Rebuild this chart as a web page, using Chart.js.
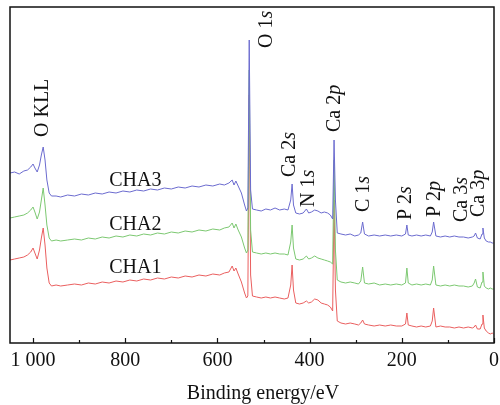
<!DOCTYPE html>
<html>
<head>
<meta charset="utf-8">
<script src="https://cdn.jsdelivr.net/npm/chart.js@4.4.1/dist/chart.umd.min.js"></script>
<style>
  html, body { margin: 0; padding: 0; background: #fff; }
  #xps { display: block; }
</style>
</head>
<body>
<canvas id="xps" width="500" height="405"></canvas>
<script>
// binding energy (eV), high -> low
let energy = [
  1050, 1040, 1030, 1020, 1012, 1005, 1000, 996, 991, 986, 982, 978, 974, 970, 965, 960,
  950, 940, 925, 910, 895, 880, 865, 850, 835, 820, 805, 790, 775, 760, 745, 730,
  715, 700, 685, 670, 655, 640, 625, 610, 595, 585, 575, 568, 564, 560, 555, 548,
  541, 537, 534, 531, 528, 524, 515, 505, 495, 485, 475, 465, 455, 447, 441, 438,
  435, 430, 422, 414, 407, 402, 396, 389, 382, 375, 368, 361, 355, 350, 347, 344,
  340, 332, 322, 312, 302, 294, 289, 285, 281, 272, 260, 248, 236, 224, 212, 200,
  192, 189, 186, 178, 168, 158, 148, 138, 134, 131, 126, 116, 106, 96, 86, 76,
  66, 56, 47, 43, 40, 36, 30, 26, 24, 21, 17, 12, 8, 4, 1
];

// intensity, arbitrary units (spectra already stacked)
let cha3 = [
  170, 171, 169, 172, 173, 176, 179, 175, 171, 178, 188, 196, 183, 163, 150, 147,
  147, 146, 148, 147, 149, 148, 150, 149, 151, 150, 152, 151, 153, 152, 154, 153,
  155, 154, 156, 155, 157, 156, 158, 157, 159, 158, 160, 163, 158, 162, 157, 150,
  138, 132, 135, 303, 153, 134, 133, 132, 134, 133, 135, 133, 134, 133, 143, 159,
  138, 130, 129, 130, 134, 130, 131, 133, 132, 130, 131, 130, 128, 124, 203, 143,
  110, 109, 108, 109, 107, 108, 110, 121, 109, 107, 108, 107, 108, 107, 108, 107,
  109, 118, 108, 107, 108, 107, 108, 107, 111, 121, 107, 106, 107, 106, 107, 106,
  106, 105, 106, 107, 110, 105, 104, 109, 115, 105, 102, 101, 101, 100, 100
];
let cha2 = [
  125, 126, 127, 128, 130, 133, 136, 131, 124, 131, 143, 155, 138, 118, 105, 102,
  103, 102, 103, 104, 103, 105, 104, 106, 105, 107, 106, 108, 107, 109, 108, 110,
  109, 111, 110, 112, 111, 113, 112, 114, 113, 115, 116, 120, 115, 119, 113, 106,
  95, 90, 93, 273, 113, 91, 90, 89, 90, 89, 90, 89, 89, 88, 101, 118,
  95, 84, 83, 84, 87, 84, 85, 87, 85, 84, 83, 82, 81, 79, 183, 93,
  63, 61, 60, 61, 60, 59, 62, 76, 60, 59, 60, 58, 59, 58, 59, 58,
  60, 75, 60, 58, 59, 58, 59, 58, 63, 77, 58, 57, 58, 57, 58, 57,
  57, 56, 57, 60, 64, 56, 55, 61, 71, 57, 55, 54, 55, 54, 54
];
let cha1 = [
  83, 84, 85, 86, 88, 91, 95, 90, 84, 93, 105, 115, 98, 75, 60, 57,
  58, 57, 58, 59, 58, 60, 59, 61, 60, 62, 61, 63, 62, 64, 63, 65,
  64, 66, 65, 67, 66, 68, 67, 69, 68, 70, 71, 77, 72, 75, 69, 61,
  50, 45, 47, 248, 68, 47, 46, 45, 46, 45, 46, 45, 44, 45, 58, 78,
  53, 40, 39, 40, 42, 40, 41, 44, 43, 40, 39, 38, 36, 32, 143, 53,
  22, 20, 19, 20, 19, 18, 20, 23, 19, 18, 17, 18, 17, 18, 17, 17,
  19, 30, 18, 17, 16, 17, 16, 17, 22, 35, 16, 17, 16, 16, 15, 16,
  15, 16, 15, 16, 18, 14, 14, 19, 28, 15, 12, 10, 9, 10, 9
];

let seriesNames = ['CHA3', 'CHA2', 'CHA1'];
let seriesColors = ['#6b6bcf', '#7cc871', '#ea5f5f'];

// peak assignments and where their labels sit
let peakNames = ['O KLL', 'O 1s', 'Ca 2s', 'N 1s', 'Ca 2p', 'C 1s', 'P 2s', 'P 2p', 'Ca 3s', 'Ca 3p'];
let peakLabelE = [978, 493, 443, 402, 346, 283, 191, 128, 70, 33];
let peakLabelI = [206, 295, 166, 136, 211, 131, 123, 126, 121, 126];

// series names written on the curves
let seriesLabelE = 778;
let seriesLabelI = [157, 113, 70];

let xTickValues = [1000, 800, 600, 400, 200, 0];
let xTickText = ['1 000', '800', '600', '400', '200', '0'];
let xMinorTicks = [900, 700, 500, 300, 100];

let FONT = "'Liberation Serif', 'Times New Roman', serif";

function pts(arr) {
  return energy.map(function (e, i) { return { x: e, y: arr[i] }; });
}

let spectra = [cha3, cha2, cha1];
let datasets = spectra.map(function (arr, i) {
  return {
    label: seriesNames[i],
    data: pts(arr),
    borderColor: seriesColors[i],
    borderWidth: 1,
    pointRadius: 0,
    tension: 0
  };
});

// frame, inward ticks, rotated peak labels, axis title
let decor = {
  id: 'decor',
  afterDraw: function (chart) {
    let ctx = chart.ctx;
    let a = chart.chartArea;
    let xs = chart.scales.x;
    let ys = chart.scales.y;
    ctx.save();

    ctx.strokeStyle = '#111';
    ctx.lineWidth = 1.5;
    ctx.strokeRect(a.left, a.top, a.right - a.left, a.bottom - a.top);

    ctx.lineWidth = 1.2;
    ctx.beginPath();
    xTickValues.forEach(function (v) {
      let px = Math.round(xs.getPixelForValue(v)) + 0.5;
      ctx.moveTo(px, a.bottom);
      ctx.lineTo(px, a.bottom - 5);
    });
    xMinorTicks.forEach(function (v) {
      let px = Math.round(xs.getPixelForValue(v)) + 0.5;
      ctx.moveTo(px, a.bottom);
      ctx.lineTo(px, a.bottom - 3);
    });
    ctx.stroke();

    ctx.fillStyle = '#111';
    ctx.textAlign = 'center';
    ctx.textBaseline = 'alphabetic';
    ctx.font = '20px ' + FONT;
    seriesLabelI.forEach(function (v, i) {
      ctx.fillText(seriesNames[i], xs.getPixelForValue(seriesLabelE), ys.getPixelForValue(v));
    });

    // peak labels read bottom-to-top, orbital letter in italics
    ctx.textAlign = 'left';
    ctx.textBaseline = 'middle';
    peakNames.forEach(function (name, i) {
      let m = name.match(/^(.*\d)([sp])$/);
      let head = m ? m[1] : name;
      let tail = m ? m[2] : '';
      ctx.save();
      ctx.translate(xs.getPixelForValue(peakLabelE[i]), ys.getPixelForValue(peakLabelI[i]));
      ctx.rotate(-Math.PI / 2);
      ctx.font = '20px ' + FONT;
      ctx.fillText(head, 0, 0);
      if (tail) {
        let w = ctx.measureText(head).width;
        ctx.font = 'italic 20px ' + FONT;
        ctx.fillText(tail, w, 0);
      }
      ctx.restore();
    });

    ctx.textAlign = 'center';
    ctx.textBaseline = 'alphabetic';
    ctx.font = '20px ' + FONT;
    ctx.fillText('Binding energy/eV', 263, 399);
    ctx.restore();
  }
};

let chart = new Chart(document.getElementById('xps'), {
  type: 'line',
  data: { datasets: datasets },
  options: {
    responsive: false,
    animation: false,
    devicePixelRatio: 1,
    layout: { padding: { left: 10, right: 6, top: 7, bottom: 26 } },
    plugins: { legend: { display: false }, tooltip: { enabled: false } },
    scales: {
      x: {
        type: 'linear',
        reverse: true,
        min: 0,
        max: 1050,
        grid: { display: false, drawTicks: false },
        border: { display: false },
        afterBuildTicks: function (scale) {
          scale.ticks = xTickValues.map(function (v) { return { value: v }; });
        },
        // keep the plot box flush with the padding instead of reserving room for end labels
        afterFit: function (scale) {
          scale.paddingLeft = 0;
          scale.paddingRight = 0;
        },
        ticks: {
          padding: 6,
          maxRotation: 0,
          autoSkip: false,
          color: '#111',
          font: { family: FONT, size: 20 },
          callback: function (v) {
            let k = xTickValues.indexOf(v);
            return k >= 0 ? xTickText[k] : '';
          }
        }
      },
      y: {
        display: false,
        min: 0,
        max: 336
      }
    }
  },
  plugins: [decor]
});
</script>
</body>
</html>
